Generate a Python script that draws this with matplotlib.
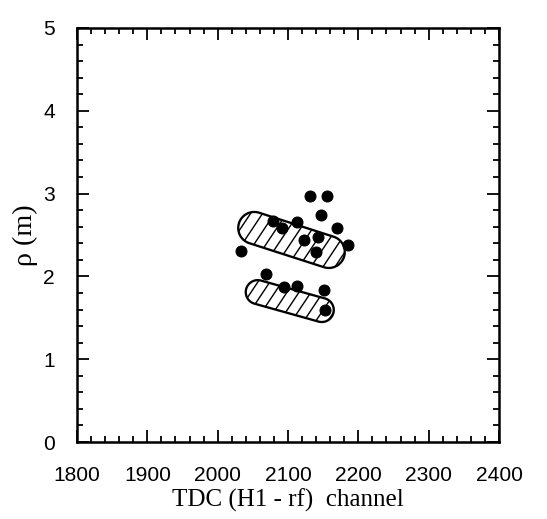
import numpy as np
import matplotlib.pyplot as plt
from matplotlib.patches import Polygon
from matplotlib.ticker import MultipleLocator

# measured points
tdc = [2131, 2155, 2147, 2078, 2113, 2091, 2169, 2123, 2142, 2186, 2140,
       2033, 2069, 2095, 2113, 2151, 2152]
rho = [2.97, 2.97, 2.74, 2.67, 2.66, 2.59, 2.58, 2.44, 2.47, 2.38, 2.29,
       2.31, 2.03, 1.87, 1.89, 1.83, 1.59]

# hatched bands: (end 1, end 2) in data units, half-width in pixels
band_ends = [((2052, 2.585), (2158, 2.295)),
             ((2057, 1.81), (2148, 1.594))]
band_radius = [16, 12]

x_ticks = [1800, 1900, 2000, 2100, 2200, 2300, 2400]
y_ticks = [0, 1, 2, 3, 4, 5]

DPI = 72


def stadium(ax, p1, p2, r, n=40):
    # build the rounded band in pixel space, then go back to data units
    a = ax.transData.transform(p1)
    b = ax.transData.transform(p2)
    ang = np.arctan2(b[1] - a[1], b[0] - a[0])
    t1 = np.linspace(ang - np.pi / 2, ang + np.pi / 2, n)
    t2 = np.linspace(ang + np.pi / 2, ang + 3 * np.pi / 2, n)
    arc_b = np.column_stack([b[0] + r * np.cos(t1), b[1] + r * np.sin(t1)])
    arc_a = np.column_stack([a[0] + r * np.cos(t2), a[1] + r * np.sin(t2)])
    return np.vstack([arc_b, arc_a])


def hatch_lines(ax, pix, poly, step=12, slope=1.5):
    # slanted lines every `step` px, clipped to the band
    x0, y0 = pix.min(axis=0)
    x1, y1 = pix.max(axis=0)
    h = y1 - y0
    for xs in np.arange(x0 - h / slope, x1 + step, step):
        seg = np.array([[xs, y0 - 2], [xs + (h + 4) / slope, y1 + 2]])
        seg = ax.transData.inverted().transform(seg)
        ln, = ax.plot(seg[:, 0], seg[:, 1], color='black', linewidth=1.4)
        ln.set_clip_path(poly)


fig = plt.figure(figsize=(547 / DPI, 519 / DPI), dpi=DPI)
ax = fig.add_axes([77 / 547, (519 - 442) / 519, 422 / 547, 414 / 519])
ax.set_xlim(1800, 2400)
ax.set_ylim(0, 5)

for (p1, p2), r in zip(band_ends, band_radius):
    pix = stadium(ax, p1, p2, r)
    poly = Polygon(ax.transData.inverted().transform(pix), closed=True,
                   facecolor='none', edgecolor='black', linewidth=2.3)
    ax.add_patch(poly)
    hatch_lines(ax, pix, poly)

ax.plot(tdc, rho, 'o', color='black', markersize=11, zorder=3)

ax.set_xticks(x_ticks)
ax.set_yticks(y_ticks)
ax.xaxis.set_minor_locator(MultipleLocator(20))
ax.yaxis.set_minor_locator(MultipleLocator(0.2))
ax.tick_params(which='both', direction='in', top=True, right=True, width=1.8)
ax.tick_params(which='major', length=12)
ax.tick_params(which='minor', length=6)
ax.tick_params(axis='x', which='major', pad=24)
ax.tick_params(axis='y', which='major', pad=22)
for lab in ax.get_xticklabels() + ax.get_yticklabels():
    lab.set_family('Liberation Sans')
    lab.set_fontsize(21)

for s in ax.spines.values():
    s.set_linewidth(2.5)

ax.set_xlabel('TDC (H1 - rf)  channel', family='Liberation Serif',
              fontsize=25, labelpad=4)
ax.set_ylabel('ρ (m)', family='Liberation Serif', fontsize=28, labelpad=5)

fig.savefig('out.png', dpi=DPI)
